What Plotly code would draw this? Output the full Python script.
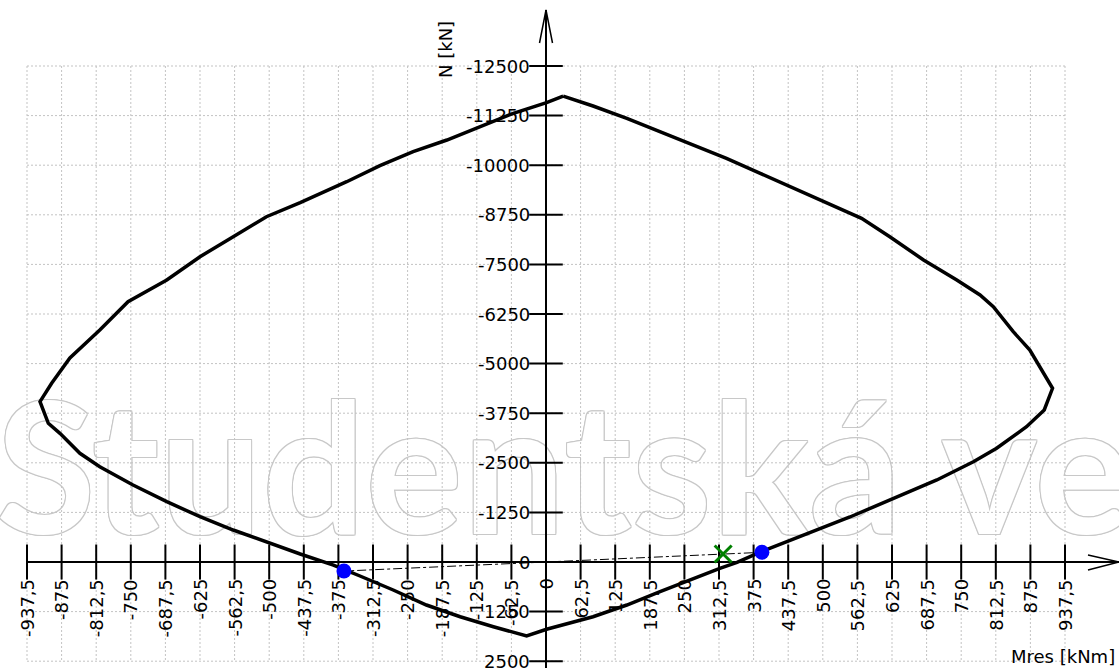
import plotly.graph_objects as go

# ---------------- data ----------------
# interaction diagram  (Mres [kNm], N [kN])
M_curve = [31, 85, 146, 206, 266, 326, 387, 447, 507, 570, 621, 682, 742, 784, 808,
           844, 874, 892, 915, 900, 868, 814, 772, 706, 549, 388, 345, 314, 266, 206,
           146, 85, 1, -35, -95, -155, -216, -276, -336, -384, -444, -505, -565, -625,
           -685, -746, -806, -842, -878, -899, -914, -893, -860, -806, -755, -685, -625,
           -565, -505, -444, -360, -300, -240, -179, -119, -59, 1, 31]
N_curve = [-11740, -11492, -11182, -10844, -10509, -10174, -9796, -9418, -9040, -8662,
           -8198, -7611, -7107, -6729, -6434, -5804, -5343, -4922, -4378, -3831, -3410,
           -2866, -2528, -2067, -1134, -255, 8, 159, 411, 748, 1084, 1379, 1696, 1865,
           1631, 1379, 1084, 706, 353, 76, -202, -512, -806, -1142, -1520, -1941, -2402,
           -2739, -3243, -3496, -4040, -4504, -5141, -5847, -6560, -7107, -7694, -8198,
           -8702, -9055, -9584, -9987, -10340, -10635, -10970, -11308, -11575, -11740]

# capacity points (blue) and load point (green)
M_capacity = [-365, 390]
N_capacity = [228, -244]
M_load = [320]
N_load = [-200]

x_ticks = [-937.5, -875, -812.5, -750, -687.5, -625, -562.5, -500, -437.5, -375,
           -312.5, -250, -187.5, -125, -62.5, 0, 62.5, 125, 187.5, 250, 312.5, 375,
           437.5, 500, 562.5, 625, 687.5, 750, 812.5, 875, 937.5]
y_ticks = [-12500, -11250, -10000, -8750, -7500, -6250, -5000, -3750, -2500, -1250,
           0, 1250, 2500]

x_title = "Mres [kNm]"
y_title = "N [kN]"
watermark = "Studentská ve"

# ---------------- layout helpers ----------------
W, H = 1119, 668
X0, KX = 546.0, 0.5536    # pixel of M=0, pixels per kNm
Y0, KY = 562.0, 0.03968   # pixel of N=0, pixels per kN


def mx(px):
    return (px - X0) / KX


def ny(py):
    return (py - Y0) / KY


def lbl(v):
    s = f"{v:g}"
    return s.replace(".", ",")


FONT = "DejaVu Sans"
GRID = "#c3c3c3"

fig = go.Figure()

# watermark (outlined text)
wm_col = "#c8c8c8"
sh = ", ".join(f"{dx}px {dy}px 0 {wm_col}" for dx, dy in
               [(1, 1), (-1, -1), (1, -1), (-1, 1), (1, 0), (-1, 0), (0, 1), (0, -1)])
fig.add_trace(go.Scatter(x=[mx(-4)], y=[ny(488)], mode="text", text=[watermark],
                         textposition="middle right",
                         textfont=dict(family="Lato", size=182, weight="bold",
                                       color="white", shadow=sh),
                         hoverinfo="skip", showlegend=False))

# grid
gx, gy = [], []
for t in x_ticks:
    gx += [t, t, None]
    gy += [y_ticks[0], y_ticks[-1], None]
for t in y_ticks:
    gx += [x_ticks[0], x_ticks[-1], None]
    gy += [t, t, None]
fig.add_trace(go.Scatter(x=gx, y=gy, mode="lines",
                         line=dict(color=GRID, width=1, dash="2px,2px"),
                         hoverinfo="skip", showlegend=False))

# axes lines
fig.add_trace(go.Scatter(x=[x_ticks[0], mx(W), None, 0, 0],
                         y=[0, 0, None, ny(H), ny(10)], mode="lines",
                         line=dict(color="black", width=2),
                         hoverinfo="skip", showlegend=False))
# arrow heads
fig.add_trace(go.Scatter(x=[mx(1088), mx(W), mx(1088), None, mx(539.5), 0, mx(552.5)],
                         y=[ny(555), 0, ny(570), None, ny(43), ny(10), ny(43)],
                         mode="lines", line=dict(color="black", width=1.5),
                         hoverinfo="skip", showlegend=False))
# tick marks
xt = [t for t in x_ticks if t != 0]
yt = [t for t in y_ticks if t != 0]
fig.add_trace(go.Scatter(x=xt, y=[0] * len(xt), mode="markers",
                         marker=dict(symbol="line-ns", size=25,
                                     line=dict(color="black", width=2)),
                         hoverinfo="skip", showlegend=False))
fig.add_trace(go.Scatter(x=[0] * len(yt), y=yt, mode="markers",
                         marker=dict(symbol="line-ew", size=24,
                                     line=dict(color="black", width=2)),
                         hoverinfo="skip", showlegend=False))

# dash-dot rays from origin to the capacity points
rx, ry = [], []
for m, n in zip(M_capacity, N_capacity):
    rx += [0, m, None]
    ry += [0, n, None]
fig.add_trace(go.Scatter(x=rx, y=ry, mode="lines",
                         line=dict(color="black", width=1, dash="dashdot"),
                         hoverinfo="skip", showlegend=False))

# interaction diagram
fig.add_trace(go.Scatter(x=M_curve, y=N_curve, mode="lines",
                         line=dict(color="black", width=3.5),
                         showlegend=False))

# load point
fig.add_trace(go.Scatter(x=M_load, y=N_load, mode="markers",
                         marker=dict(symbol="x-thin", size=17,
                                     line=dict(color="#008000", width=3)),
                         showlegend=False))
# capacity points
fig.add_trace(go.Scatter(x=M_capacity, y=N_capacity, mode="markers",
                         marker=dict(symbol="circle", size=15, color="#0000ff"),
                         showlegend=False))

ann = []
for t in x_ticks:
    ann.append(dict(x=t, y=0, xref="x", yref="y", text=lbl(t), showarrow=False,
                    textangle=-90, yanchor="top", xanchor="center", yshift=-15,
                    font=dict(family=FONT, size=18, color="black")))
for t in y_ticks:
    ann.append(dict(x=0, y=t, xref="x", yref="y", text=lbl(t), showarrow=False,
                    xanchor="right", yanchor="middle", xshift=-14,
                    font=dict(family=FONT, size=18, color="black")))
ann.append(dict(x=446 / W, y=1 - 50 / H, xref="paper", yref="paper", text=y_title,
                showarrow=False, textangle=-90, xanchor="center", yanchor="middle",
                font=dict(family=FONT, size=18, color="black")))
ann.append(dict(x=1117 / W, y=1 - 656 / H, xref="paper", yref="paper", text=x_title,
                showarrow=False, xanchor="right", yanchor="middle",
                font=dict(family=FONT, size=18, color="black")))

fig.update_layout(
    width=W, height=H, autosize=False,
    margin=dict(l=0, r=0, t=0, b=0, pad=0),
    paper_bgcolor="white", plot_bgcolor="white",
    xaxis=dict(range=[mx(0), mx(W)], visible=False, fixedrange=True),
    yaxis=dict(range=[ny(H), ny(0)], visible=False, fixedrange=True),
    annotations=ann,
    showlegend=False,
)

fig.write_html("out.html", config={"displayModeBar": False},
               post_script="document.body.style.margin='0px';")
